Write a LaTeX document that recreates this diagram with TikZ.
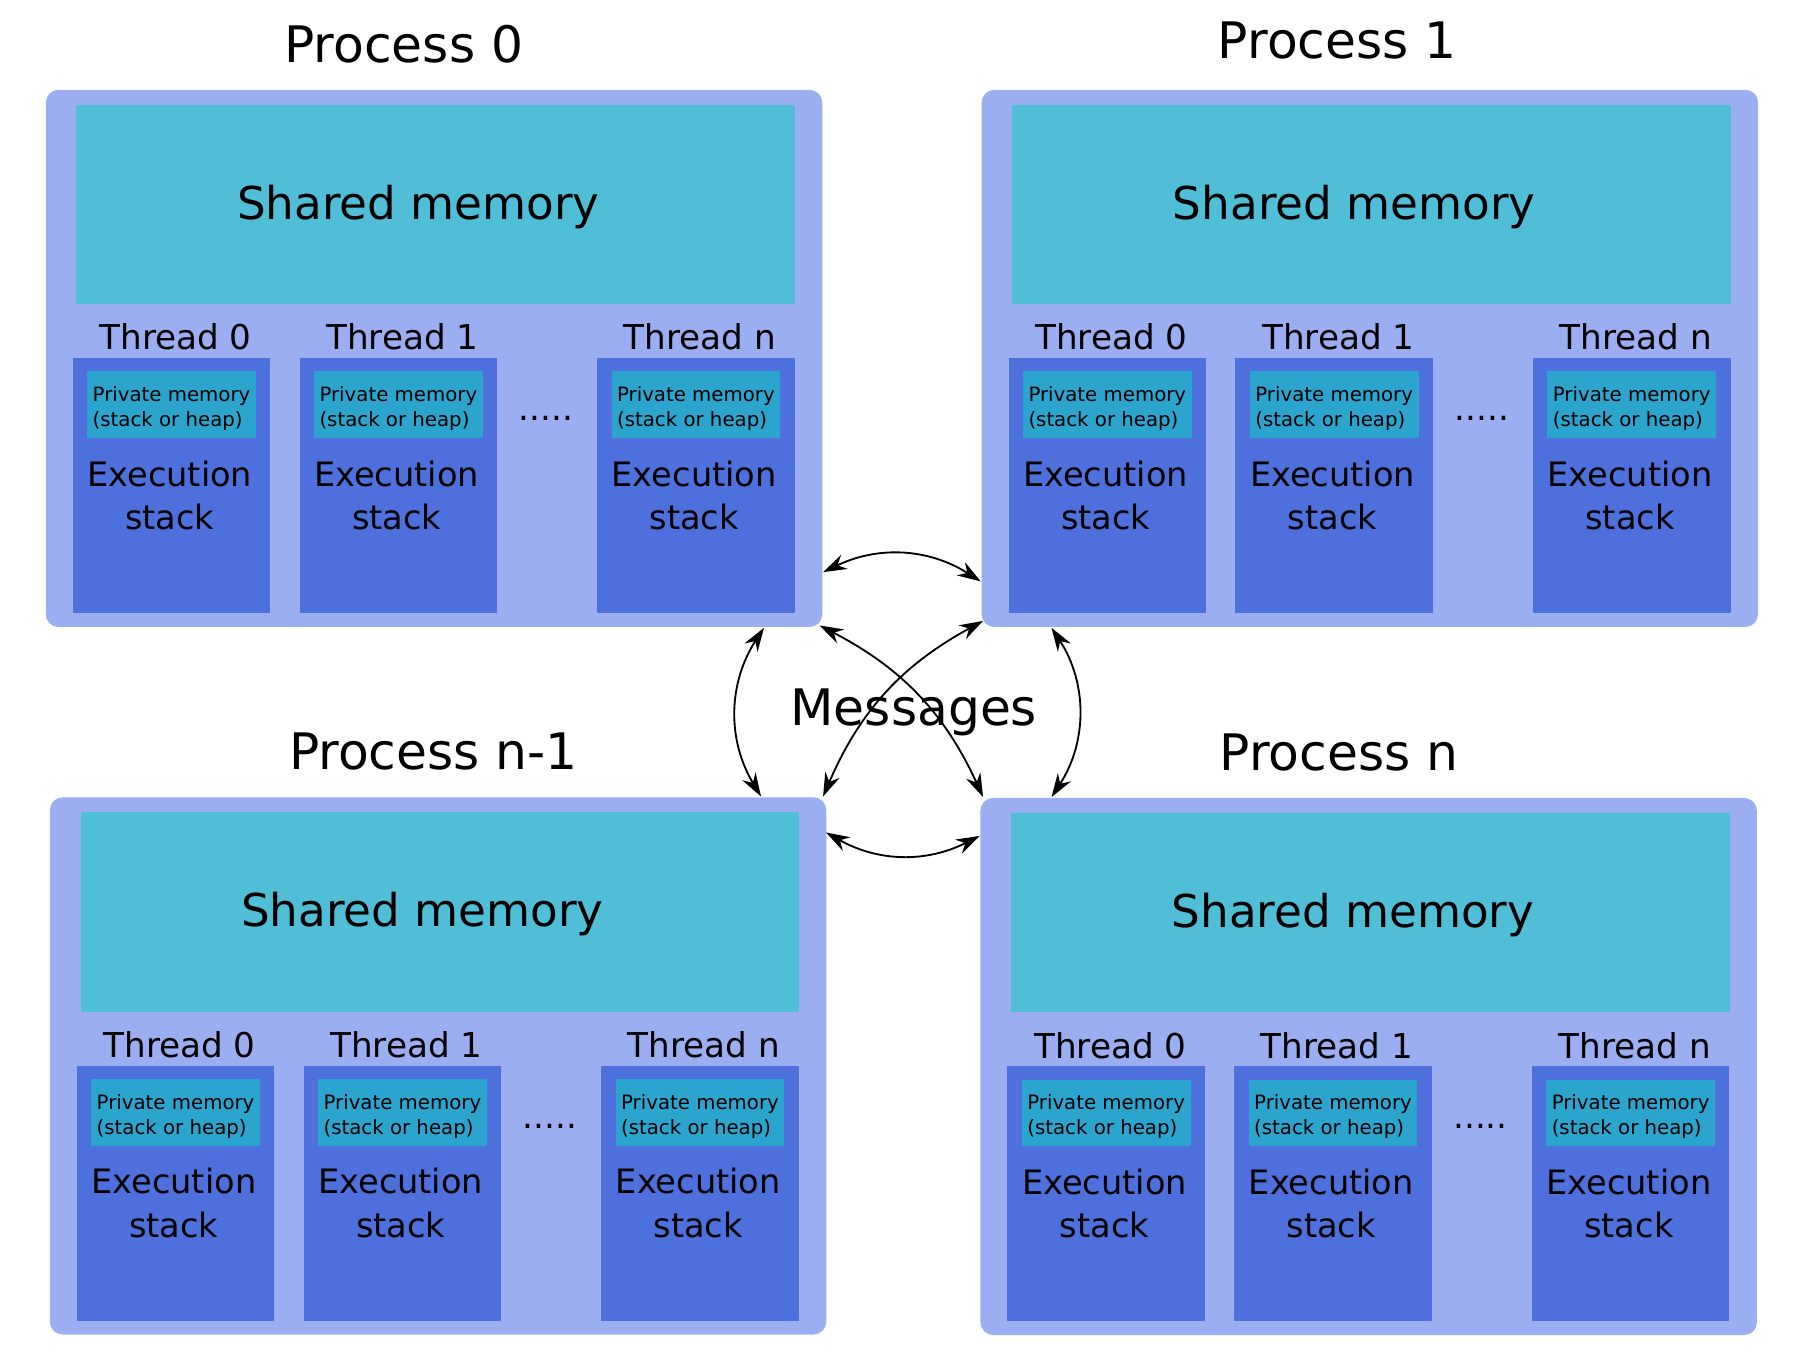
\documentclass[tikz,border=0pt]{standalone}
\usepackage{fontspec}
\setmainfont{DejaVu Sans}
\usetikzlibrary{arrows.meta, positioning, calc}

\definecolor{procblue}{HTML}{9BAEF2}
\definecolor{sharedcyan}{HTML}{50BED6}
\definecolor{threadblue}{HTML}{4E70DD}
\definecolor{privcyan}{HTML}{2BA4CE}

\begin{document}
\begin{tikzpicture}[x=0.1mm, y=-0.1mm,
    process/.style={rectangle, rounded corners=1.1mm, fill=procblue, minimum width=67mm, minimum height=46.35mm, inner sep=0pt},
    shared/.style={rectangle, fill=sharedcyan, minimum width=62mm, minimum height=17.2mm, inner sep=0pt},
    sharedtxt/.style={inner sep=0pt, font=\fontsize{11.1}{13}\selectfont},
    thread/.style={rectangle, fill=threadblue, minimum width=17.05mm, minimum height=22mm, inner sep=0pt},
    private/.style={rectangle, fill=privcyan, minimum width=14.55mm, minimum height=5.75mm, inner sep=0pt},
    privtxt/.style={inner sep=0pt, align=left, font=\fontsize{4.85}{6.15}\selectfont},
    title/.style={anchor=base, font=\fontsize{12.35}{14}\selectfont},
    threadlbl/.style={anchor=base, inner sep=0pt, font=\fontsize{8.4}{10}\selectfont},
    stacktxt/.style={align=center, inner sep=0pt, font=\fontsize{8.25}{10.6}\selectfont},
    msgarrow/.style={{Stealth[length=5.8pt, width=3.8pt]}-{Stealth[length=5.8pt, width=3.8pt]}, line width=0.45pt}
]
\useasboundingbox (0,0) rectangle (1567,1173.5);

% the four processes
\foreach \k/\dx/\dy/\name/\ttx/\tty in {0/0/0/Process 0/348.5/53.8, 1/807.5/0/Process 1/1154/50.3, m/3.5/610.5/Process n-1/374/664.3, n/806.5/611/Process n/1155.5/665}{
  \node[process] (p\k) at (\dx+374.5,\dy+309.25) {};
  \node[shared] (p\k-shm) at (\dx+376,\dy+176.5) {};
  \node[sharedtxt] (p\k-shmtxt) at ($(p\k-shm.center)+(-15,2)$) {Shared memory};
  \node[title] (p\k-title) at (\ttx,\tty) {\name};
  \foreach \tx/\tl in {148/0, 343.75/1, 600.5/n}{
    \node[thread] (p\k-t\tl) at (\dx+\tx,\dy+419) {};
    \node[threadlbl] (p\k-t\tl-lbl) at (\dx+\tx+3.5,\dy+302) {Thread \tl};
    \node[private] (p\k-t\tl-priv) at (\dx+\tx,\dy+349.3) {};
    \node[privtxt] (p\k-t\tl-ptxt) at ($(p\k-t\tl-priv.center)+(0,3.5)$) {Private memory\\(stack or heap)};
    \node[stacktxt] (p\k-t\tl-stack) at (\dx+\tx-1.5,\dy+427.5) {Execution\\stack};
  }
  \node[threadlbl] (p\k-dots) at (\dx+471,\dy+363) {.....};
}

\node[title] (msg) at (788.5,625.8) {Messages};

% message passing between processes
\draw[msgarrow] ($(p0.south east)+(0,-48)$) to[bend left=29] ($(p1.south west)+(0,-40)$);
\draw[msgarrow] ($(p0.south east)+(-51,0)$) to[bend right=32] ($(pm.north east)+(-57,0)$);
\draw[msgarrow] ($(p0.south east)+(-3,-2)$) to[bend left=19] ($(pn.north west)+(3,0)$);
\draw[msgarrow] ($(p1.south west)+(2,-6)$) to[bend right=19] ($(pm.north east)+(-3.5,0)$);
\draw[msgarrow] ($(p1.south west)+(61,0)$) to[bend left=33] ($(pn.north west)+(62,0)$);
\draw[msgarrow] ($(pm.north east)+(-1,31)$) to[bend right=28] ($(pn.north west)+(0,33.5)$);

\end{tikzpicture}
\end{document}
